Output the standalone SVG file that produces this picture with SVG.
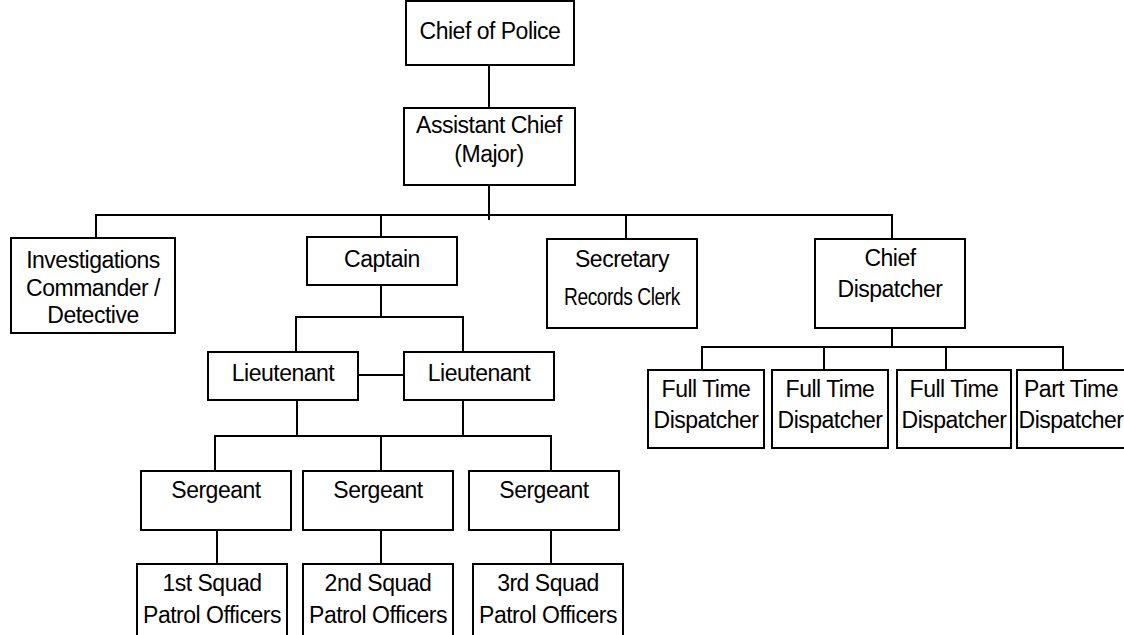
<svg xmlns="http://www.w3.org/2000/svg" width="1124" height="635" viewBox="0 0 1124 635">
<style>
.b{fill:#fff;stroke:#000;stroke-width:2}
.c{fill:none;stroke:#000;stroke-width:2}
text{font-family:"Liberation Sans",Arial,sans-serif;font-size:23px;letter-spacing:-0.5px;fill:#000;text-anchor:middle}
</style>
<rect width="1124" height="635" fill="#fff"/>
<g id="connectors" class="c">
<path d="M489 65V108"/>
<path d="M489 185V220"/>
<path d="M96 238V215H892V239"/>
<path d="M381 215V237"/>
<path d="M626 215V239"/>
<path d="M381 285V317"/>
<path d="M296 352V317H463V352"/>
<path d="M358 375H404"/>
<path d="M297 400V436"/>
<path d="M463 400V436"/>
<path d="M215 471V436H551V471"/>
<path d="M381 436V471"/>
<path d="M217 530V564"/>
<path d="M381 530V564"/>
<path d="M551 530V564"/>
<path d="M892 328V347"/>
<path d="M702 370V347H1063V370"/>
<path d="M824 347V370"/>
<path d="M946 347V370"/>
</g>
<g id="chief"><rect class="b" x="406" y="1" width="168" height="64"/><text x="490" y="39">Chief of Police</text></g>
<g id="assistant"><rect class="b" x="404" y="108" width="171" height="77"/><text x="489" y="133">Assistant Chief</text><text x="489" y="162">(Major)</text></g>
<g id="investigations"><rect class="b" x="11" y="238" width="164" height="95"/><text x="93" y="268">Investigations</text><text x="93" y="296">Commander /</text><text x="93" y="323">Detective</text></g>
<g id="captain"><rect class="b" x="307" y="237" width="150" height="48"/><text x="382" y="267">Captain</text></g>
<g id="secretary"><rect class="b" x="547" y="239" width="150" height="89"/><text x="622" y="267">Secretary</text><text x="622" y="305" textLength="116" lengthAdjust="spacingAndGlyphs">Records Clerk</text></g>
<g id="chief-dispatcher"><rect class="b" x="815" y="239" width="150" height="89"/><text x="890" y="266">Chief</text><text x="890" y="297">Dispatcher</text></g>
<g id="lieutenant1"><rect class="b" x="208" y="352" width="150" height="48"/><text x="283" y="381">Lieutenant</text></g>
<g id="lieutenant2"><rect class="b" x="404" y="352" width="150" height="48"/><text x="479" y="381">Lieutenant</text></g>
<g id="sergeant1"><rect class="b" x="141" y="471" width="150" height="59"/><text x="216" y="498">Sergeant</text></g>
<g id="sergeant2"><rect class="b" x="303" y="471" width="150" height="59"/><text x="378" y="498">Sergeant</text></g>
<g id="sergeant3"><rect class="b" x="469" y="471" width="150" height="59"/><text x="544" y="498">Sergeant</text></g>
<g id="squad1"><rect class="b" x="137" y="564" width="150" height="80"/><text x="212" y="591">1st Squad</text><text x="212" y="623">Patrol Officers</text></g>
<g id="squad2"><rect class="b" x="303" y="564" width="150" height="80"/><text x="378" y="591">2nd Squad</text><text x="378" y="623">Patrol Officers</text></g>
<g id="squad3"><rect class="b" x="473" y="564" width="150" height="80"/><text x="548" y="591">3rd Squad</text><text x="548" y="623">Patrol Officers</text></g>
<g id="ft1"><rect class="b" x="648" y="370" width="116" height="78"/><text x="706" y="397">Full Time</text><text x="706" y="428">Dispatcher</text></g>
<g id="ft2"><rect class="b" x="772" y="370" width="116" height="78"/><text x="830" y="397">Full Time</text><text x="830" y="428">Dispatcher</text></g>
<g id="ft3"><rect class="b" x="897" y="370" width="114" height="78"/><text x="954" y="397">Full Time</text><text x="954" y="428">Dispatcher</text></g>
<g id="pt"><rect class="b" x="1017" y="370" width="116" height="78"/><text x="1071" y="397">Part Time</text><text x="1071" y="428">Dispatcher</text></g>
</svg>
